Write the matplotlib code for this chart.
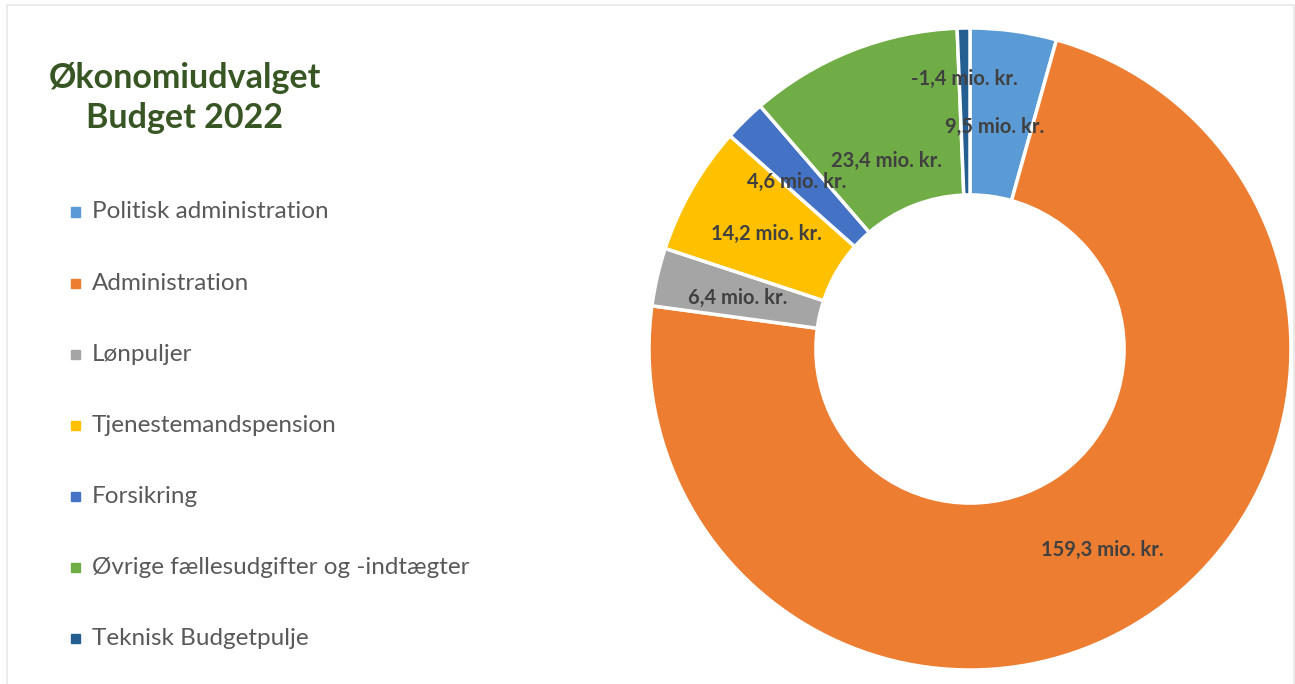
import matplotlib.pyplot as plt
import numpy as np
from matplotlib.patches import Rectangle

plt.rcParams['font.family'] = ['Lato', 'DejaVu Sans']

# data
categories = ['Politisk administration', 'Administration', 'Lønpuljer',
              'Tjenestemandspension', 'Forsikring',
              'Øvrige fællesudgifter og -indtægter', 'Teknisk Budgetpulje']
values = [9.5, 159.3, 6.4, 14.2, 4.6, 23.4, -1.4]
labels = ['9,5 mio. kr.', '159,3 mio. kr.', '6,4 mio. kr.', '14,2 mio. kr.',
          '4,6 mio. kr.', '23,4 mio. kr.', '-1,4 mio. kr.']
colors = ['#5B9BD5', '#ED7D31', '#A5A5A5', '#FFC000', '#4472C4', '#70AD47', '#255E91']
label_r = [0.695, 0.75, 0.74, 0.73, 0.75, 0.64, 0.84]
label_dang = [1.5, 0, 0.5, 0.5, 1.5, 2.5, 0]

W, H = 1295, 684
fig = plt.figure(figsize=(W / 100, H / 100), dpi=100)

# pie axes: center (970, 349), radius 321 px
cx, cy, R = 970, 349, 321
ax = fig.add_axes([(cx - R) / W, (H - cy - R) / H, 2 * R / W, 2 * R / H])
sizes = [abs(v) for v in values]
wedges, _ = ax.pie(sizes, colors=colors, startangle=90, counterclock=False,
                   radius=1, wedgeprops=dict(width=0.52, edgecolor='white', linewidth=2.5))
ax.set_xlim(-1, 1)
ax.set_ylim(-1, 1)
ax.set_aspect('equal')
ax.axis('off')

for w, lab, r, da in zip(wedges, labels, label_r, label_dang):
    ang = np.deg2rad((w.theta1 + w.theta2) / 2 + da)
    ax.text(r * np.cos(ang), r * np.sin(ang), lab, ha='center', va='center',
            fontsize=14.5, fontweight='bold', color='#404040')

# title
fig.text(185 / W, 1 - 98 / H, 'Økonomiudvalget\nBudget 2022', ha='center', va='center',
         fontsize=24.5, fontweight='bold', color='#375623', linespacing=1.33)

# legend
y0, dy = 212, 71.1
for i, (cat, col) in enumerate(zip(categories, colors)):
    y = y0 + i * dy
    fig.patches.append(Rectangle((71 / W, 1 - (y + 4.5) / H), 9 / W, 9 / H,
                                 transform=fig.transFigure, color=col))
    fig.text(92 / W, 1 - y / H, cat, ha='left', va='center', fontsize=17.5, color='#595959')

# faint frame
fig.patches.append(Rectangle((7 / W, -0.01), (1294 - 7) / W, 1 - 5 / H + 0.01,
                             transform=fig.transFigure, fill=False,
                             edgecolor='#E6E6E6', linewidth=1.2))

fig.savefig('out.png', dpi=100)
